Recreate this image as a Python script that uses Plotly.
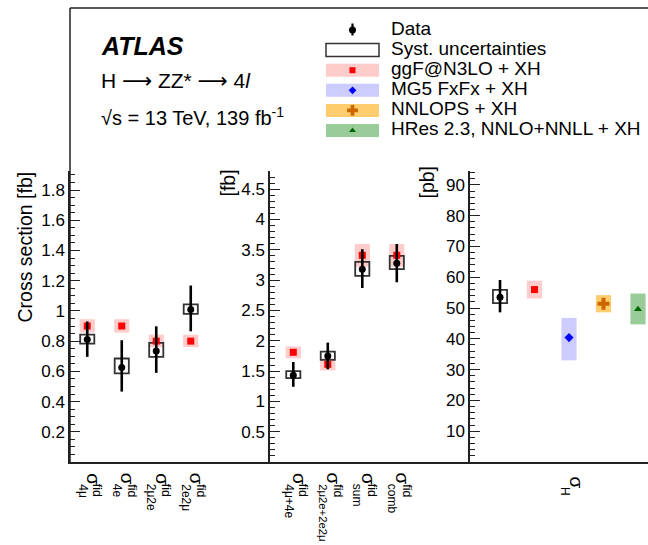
import plotly.graph_objects as go

W, H = 648, 545

# ---------------- data ----------------
# left panel: fiducial cross sections per channel [fb]
left_sub = ["4μ", "4e", "2μ2e", "2e2μ"]
left_val = [0.81, 0.625, 0.735, 1.01]
left_tot_up = [0.93, 0.806, 0.898, 1.168]
left_tot_dn = [0.696, 0.466, 0.59, 0.865]
left_sys_up = [0.843, 0.685, 0.788, 1.043]
left_sys_dn = [0.784, 0.587, 0.696, 0.981]
left_ggf = [0.90, 0.90, 0.80, 0.80]
left_ggf_up = [0.945, 0.945, 0.843, 0.842]
left_ggf_dn = [0.857, 0.857, 0.760, 0.760]

# middle panel: combined fiducial cross sections [fb]
mid_sub = ["4μ+4e", "2μ2e+2e2μ", "sum", "comb"]
mid_val = [1.43, 1.75, 3.18, 3.28]
mid_tot_up = [1.65, 1.97, 3.51, 3.595]
mid_tot_dn = [1.24, 1.53, 2.87, 2.965]
mid_sys_up = [1.50, 1.82, 3.30, 3.40]
mid_sys_dn = [1.385, 1.685, 3.07, 3.18]
mid_ggf = [1.81, 1.61, 3.41, 3.41]
mid_ggf_up = [1.905, 1.71, 3.595, 3.595]
mid_ggf_dn = [1.71, 1.51, 3.22, 3.22]

# right panel: total cross section [pb]
tot_val = [53.5]
tot_up = [59.1]
tot_dn = [48.6]
tot_sys_up = [55.9]
tot_sys_dn = [51.6]
pred_names = ["ggF@N3LO + XH", "MG5 FxFx + XH", "NNLOPS + XH", "HRes 2.3, NNLO+NNLL + XH"]
pred_val = [56.0, 40.4, 51.4, 49.6]
pred_up = [58.9, 46.8, 54.2, 54.7]
pred_dn = [53.1, 33.0, 48.6, 44.7]
pred_band = ["rgb(255,204,204)", "rgb(204,204,255)", "rgb(255,204,110)", "rgb(153,204,153)"]
pred_col = ["#ff0000", "#0000ff", "#cc6600", "#006600"]
pred_sym = ["square", "diamond", "cross", "triangle-up"]
pred_size = [7, 7, 10, 7]

legend_labels = ["Data", "Syst. uncertainties"] + pred_names

FONT = "Liberation Sans, Arial, Helvetica, sans-serif"
LC = "#222222"


def px(x):
    return x / W


def py(y):
    return 1 - y / H


fig = go.Figure()


def add_panel(xa, ya, xs, val, up, dn, sup, sdn, pv=None, pup=None, pdn=None,
              bandcol=None, pcol=None, psym=None, psize=None):
    if pv is not None:
        for i in range(len(pv)):
            fig.add_trace(go.Bar(x=[xs[i]], y=[pup[i] - pdn[i]], base=[pdn[i]],
                                 width=0.44, marker=dict(color=bandcol[i], line=dict(width=0)),
                                 xaxis=xa, yaxis=ya, showlegend=False, hoverinfo="skip"))
    fig.add_trace(go.Bar(x=xs[:len(val)], y=[u - d for u, d in zip(sup, sdn)], base=sdn, width=0.41,
                         marker=dict(color="rgba(0,0,0,0)", line=dict(color="#333", width=1.8)),
                         xaxis=xa, yaxis=ya, showlegend=False, hoverinfo="skip"))
    if pv is not None:
        for i in range(len(pv)):
            fig.add_trace(go.Scatter(x=[xs[i]], y=[pv[i]], mode="markers",
                                     marker=dict(color=pcol[i], symbol=psym[i], size=psize[i], line=dict(width=0)),
                                     xaxis=xa, yaxis=ya, showlegend=False, hoverinfo="skip"))
    fig.add_trace(go.Scatter(x=xs[:len(val)], y=val, mode="markers",
                             marker=dict(color="black", size=7),
                             error_y=dict(type="data", symmetric=False,
                                          array=[u - v for u, v in zip(up, val)],
                                          arrayminus=[v - d for v, d in zip(val, dn)],
                                          color="black", thickness=2.6, width=0),
                             xaxis=xa, yaxis=ya, showlegend=False, hoverinfo="skip"))


# left panel
lx = list(range(len(left_val)))
add_panel("x", "y", lx, left_val, left_tot_up, left_tot_dn, left_sys_up, left_sys_dn,
          left_ggf, left_ggf_up, left_ggf_dn, [pred_band[0]] * 4, [pred_col[0]] * 4,
          [pred_sym[0]] * 4, [pred_size[0]] * 4)
# middle panel
mx = list(range(len(mid_val)))
add_panel("x2", "y2", mx, mid_val, mid_tot_up, mid_tot_dn, mid_sys_up, mid_sys_dn,
          mid_ggf, mid_ggf_up, mid_ggf_dn, [pred_band[0]] * 4, [pred_col[0]] * 4,
          [pred_sym[0]] * 4, [pred_size[0]] * 4)
# right panel: data in column 0, predictions in columns 1..4
rx = list(range(1, len(pred_val) + 1))
for i in range(len(pred_val)):
    fig.add_trace(go.Bar(x=[rx[i]], y=[pred_up[i] - pred_dn[i]], base=[pred_dn[i]], width=0.44,
                         marker=dict(color=pred_band[i], line=dict(width=0)),
                         xaxis="x3", yaxis="y3", showlegend=False, hoverinfo="skip"))
add_panel("x3", "y3", [0], tot_val, tot_up, tot_dn, tot_sys_up, tot_sys_dn)
for i in range(len(pred_val)):
    fig.add_trace(go.Scatter(x=[rx[i]], y=[pred_val[i]], mode="markers",
                             marker=dict(color=pred_col[i], symbol=pred_sym[i], size=pred_size[i], line=dict(width=0)),
                             xaxis="x3", yaxis="y3", showlegend=False, hoverinfo="skip"))

# ---------------- axes ----------------
ydom = [py(462), py(171)]
common_x = dict(showline=True, linecolor=LC, linewidth=1.5, ticks="", showticklabels=False,
                showgrid=False, zeroline=False, fixedrange=True)


def yax(rng, vals, minor_dt, anchor):
    return dict(domain=ydom, range=rng, anchor=anchor, showline=True, linecolor=LC, linewidth=1.5,
                ticks="inside", ticklen=10, tickwidth=1.2, tickcolor=LC,
                tickmode="array", tickvals=vals, ticktext=[f"{v:g}" for v in vals],
                minor=dict(ticks="inside", ticklen=5, tickwidth=1.2, tickcolor=LC, dtick=minor_dt, tick0=0,
                           showgrid=False),
                tickfont=dict(family=FONT, size=17, color="black"), ticklabelstandoff=0,
                showgrid=False, zeroline=False, fixedrange=True)


fig.update_layout(
    width=W, height=H, margin=dict(l=0, r=0, t=0, b=0),
    paper_bgcolor="white", plot_bgcolor="rgba(0,0,0,0)",
    barmode="overlay", showlegend=False,
    font=dict(family=FONT, color="black"),
    xaxis=dict(domain=[px(70), px(270)], range=[-0.5, 5.297], anchor="y", **common_x),
    xaxis2=dict(domain=[px(270), px(470)], range=[-0.675, 5.122], anchor="y2", **common_x),
    xaxis3=dict(domain=[px(470), 1], range=[-0.87, 4.29], anchor="y3", **common_x),
    yaxis=yax([0, 1.926], [0.2, 0.4, 0.6, 0.8, 1.0, 1.2, 1.4, 1.6, 1.8], 0.05, "x"),
    yaxis2=yax([0, 4.80], [0.5, 1, 1.5, 2, 2.5, 3, 3.5, 4, 4.5], 0.1, "x2"),
    yaxis3=yax([0, 94.5], [10, 20, 30, 40, 50, 60, 70, 80, 90], 2, "x3"),
    xaxis4=dict(domain=[0, 1], range=[0, W], visible=False, fixedrange=True, anchor="y4"),
    yaxis4=dict(domain=[0, 1], range=[H, 0], visible=False, fixedrange=True, anchor="x4"),
)

shapes = []
# outer frame (left and top)
shapes.append(dict(type="line", xref="paper", yref="paper", x0=px(70), x1=px(70), y0=py(462), y1=py(8),
                   line=dict(color=LC, width=1.5)))
shapes.append(dict(type="line", xref="paper", yref="paper", x0=px(70), x1=1, y0=py(8), y1=py(8),
                   line=dict(color=LC, width=1.5)))

annotations = []
# header text
annotations.append(dict(text="<b><i>ATLAS</i></b>", x=px(99), y=py(46), xref="paper", yref="paper",
                        xanchor="left", yanchor="middle", showarrow=False, font=dict(size=25, family=FONT)))
ARROW = "<span style='font-family:DejaVu Sans'>⟶</span>"
annotations.append(dict(text=f"H {ARROW} ZZ* {ARROW} 4<i>l</i>", x=px(99), y=py(81), xref="paper",
                        yref="paper", xanchor="left", yanchor="middle", showarrow=False,
                        font=dict(size=21, family=FONT)))
annotations.append(dict(text="√s = 13 TeV, 139 fb<sup>-1</sup>", x=px(99), y=py(117), xref="paper", yref="paper",
                        xanchor="left", yanchor="middle", showarrow=False, font=dict(size=20, family=FONT)))

# legend
leg_y0 = 28.5
leg_dy = 20.1
leg_bx0, leg_bx1, leg_mx = 326, 379, 352.5
for i, lab in enumerate(legend_labels):
    yc = leg_y0 + i * leg_dy
    annotations.append(dict(text=lab, x=px(389), y=py(yc), xref="paper", yref="paper", xanchor="left",
                            yanchor="middle", showarrow=False, font=dict(size=19, family=FONT)))
    if i == 0:
        shapes.append(dict(type="line", xref="paper", yref="paper", x0=px(leg_mx), x1=px(leg_mx),
                           y0=py(yc - 5), y1=py(yc + 7), line=dict(color="black", width=2.2)))
        fig.add_trace(go.Scatter(x=[leg_mx], y=[yc + 1.5], mode="markers", marker=dict(color="black", size=7),
                                 xaxis="x4", yaxis="y4", showlegend=False, hoverinfo="skip"))
    elif i == 1:
        shapes.append(dict(type="rect", xref="paper", yref="paper", x0=px(leg_bx0), x1=px(leg_bx1),
                           y0=py(yc - 6.5 + 1.5), y1=py(yc + 6.5 + 1.5), line=dict(color="#333", width=1.5),
                           fillcolor="rgba(0,0,0,0)"))
    else:
        k = i - 2
        shapes.append(dict(type="rect", xref="paper", yref="paper", x0=px(leg_bx0), x1=px(leg_bx1),
                           y0=py(yc - 6.5 + 1.5), y1=py(yc + 6.5 + 1.5), line=dict(width=0),
                           fillcolor=pred_band[k], layer="below"))
        fig.add_trace(go.Scatter(x=[leg_mx], y=[yc + 1.5], mode="markers",
                                 marker=dict(color=pred_col[k], symbol=pred_sym[k], size=pred_size[k] - 1),
                                 xaxis="x4", yaxis="y4", showlegend=False, hoverinfo="skip"))

# y-axis titles
annotations.append(dict(text="Cross section [fb]", x=px(24), y=py(170), xref="paper", yref="paper",
                        xanchor="center", yanchor="top", textangle=-90, showarrow=False,
                        font=dict(size=19.5, family=FONT)))
annotations.append(dict(text="[fb]", x=px(227), y=py(168), xref="paper", yref="paper",
                        xanchor="center", yanchor="top", textangle=-90, showarrow=False,
                        font=dict(size=19.5, family=FONT)))
annotations.append(dict(text="[pb]", x=px(426), y=py(164), xref="paper", yref="paper",
                        xanchor="center", yanchor="top", textangle=-90, showarrow=False,
                        font=dict(size=19.5, family=FONT)))


# x labels (rotated, sigma with stacked super/subscripts)
def sig_label(xref, xval, sub, sup="fid", ytop=471):
    sub_size = 12 if len(sub) < 8 else 11.3
    annotations.append(dict(text="σ", x=xval, y=py(ytop), xref=xref, yref="paper", xanchor="center",
                            yanchor="top", textangle=90, xshift=6.6, showarrow=False,
                            font=dict(size=19, family=FONT)))
    if sup:
        annotations.append(dict(text=sup, x=xval, y=py(ytop + 11), xref=xref, yref="paper", xanchor="center",
                                yanchor="top", textangle=90, xshift=10.5, showarrow=False,
                                font=dict(size=12.5, family=FONT)))
    annotations.append(dict(text=sub, x=xval, y=py(ytop + 11), xref=xref, yref="paper", xanchor="center",
                            yanchor="top", textangle=90, xshift=-4.5, showarrow=False,
                            font=dict(size=sub_size, family=FONT)))


for xv, s in zip(lx, left_sub):
    sig_label("x", xv, s)
for xv, s in zip(mx, mid_sub):
    sig_label("x2", xv, s)
sig_label("paper", px(570), "H", sup=None, ytop=474)

fig.update_layout(shapes=shapes, annotations=annotations)
fig.write_html("out.html")
